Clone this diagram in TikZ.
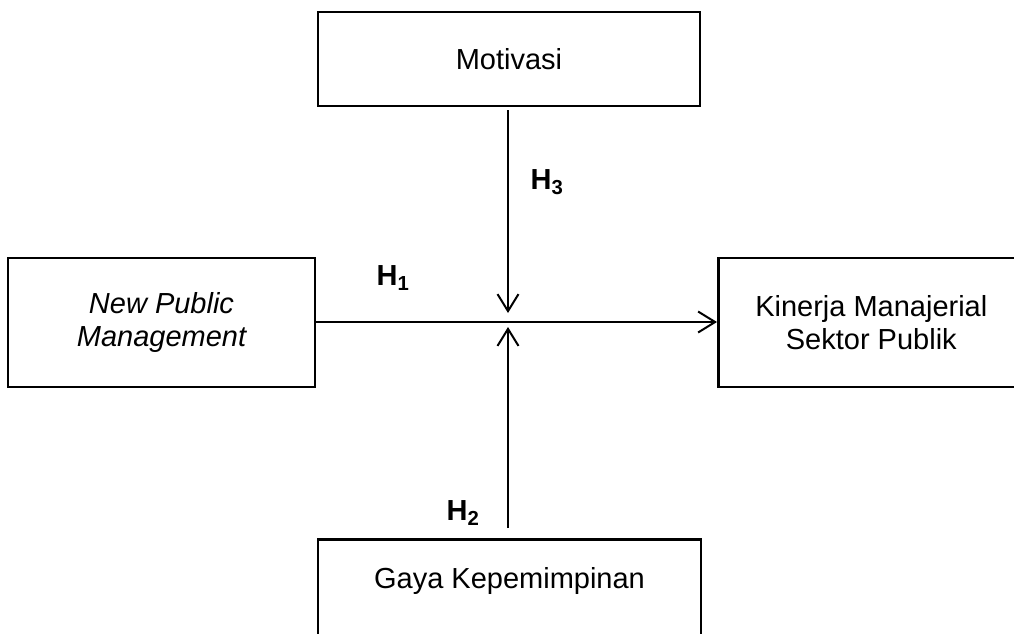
\documentclass[tikz,border=0pt]{standalone}
\usepackage{fontspec}
\setmainfont{Liberation Sans}
\usetikzlibrary{arrows.meta}
\begin{document}
\begin{tikzpicture}[x=1pt,y=-1pt,
  box/.style={draw, line width=2.6pt, rectangle, align=center, inner sep=0pt,
    font=\fontsize{29}{33}\selectfont},
  conn/.style={line width=2pt, -{Straight Barb[length=17pt,width=21pt,line width=2pt]}},
  hlab/.style={font=\fontsize{29}{33}\selectfont\bfseries, inner sep=0pt}]
\clip (0,0) rectangle (1014,633);
\node[box, minimum width=382, minimum height=94] (mot) at (509,59) {Motivasi};
\node[box, minimum width=307, minimum height=129] (npm) at (161.5,322.5) {\itshape New Public\\\itshape Management};
\node[box, minimum width=306, minimum height=129, anchor=west] (kin) at (717,322.5) {Kinerja Manajerial\\Sektor Publik};
\node[box, minimum width=383, text height=49pt, text depth=100pt, anchor=north] (gaya) at (509.5,538) {Gaya Kepemimpinan};
\coordinate (j) at (508,322);
\draw[conn] (npm.east |- j) -- (kin.west |- j);
\draw[conn, shorten <=3pt, shorten >=9pt] (mot.south -| j) -- (j);
\draw[conn, shorten <=10pt, shorten >=5pt] (gaya.north -| j) -- (j);
\node[hlab] (h1) at (393,278) {H\textsubscript{1}};
\node[hlab] (h3) at (547,182) {H\textsubscript{3}};
\node[hlab] (h2) at (463,513) {H\textsubscript{2}};
\end{tikzpicture}
\end{document}
